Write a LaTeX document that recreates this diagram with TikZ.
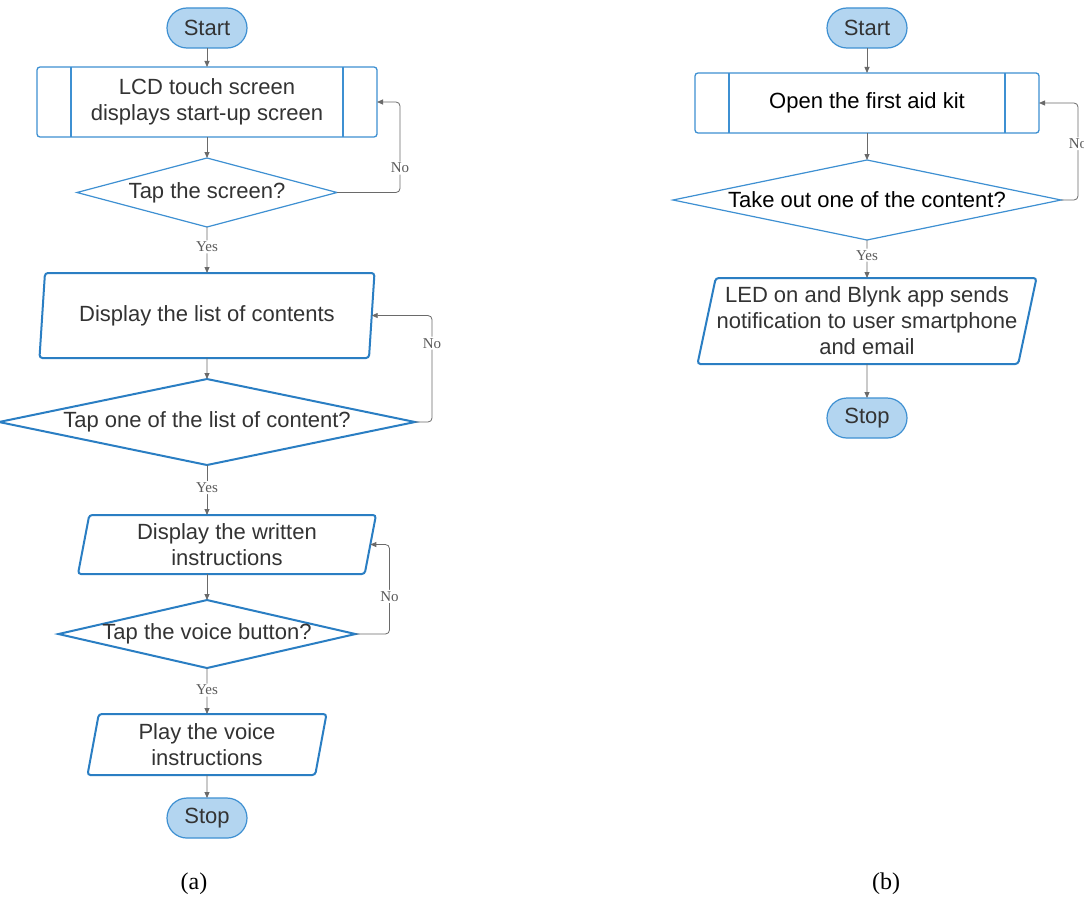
\documentclass[tikz,border=0pt]{standalone}
\usepackage{fontspec}
\setmainfont{Liberation Sans}
\newfontfamily\notefont{Liberation Serif}
\usetikzlibrary{arrows.meta,positioning,shapes.geometric}
\definecolor{edge}{HTML}{3E90D2}
\definecolor{edgedark}{HTML}{2A7EC3}
\definecolor{pill}{HTML}{B3D5F0}
\definecolor{ink}{HTML}{333333}
\definecolor{wire}{HTML}{6A6A6A}
\tikzset{base/.style={inner sep=0pt,outer sep=0pt,align=center,text=ink,font=\fontsize{22}{26}\selectfont},
term/.style={base,draw=edge,fill=pill,line width=1.2pt,rounded corners=20pt,minimum width=80pt,minimum height=40pt},
proc/.style 2 args={base,draw=edge,line width=1.3pt,rounded corners=3pt,minimum width=#1,minimum height=#2,path picture={\draw[edge,line width=1.3pt] ([xshift=34pt]path picture bounding box.north west)--([xshift=34pt]path picture bounding box.south west) ([xshift=-34pt]path picture bounding box.north east)--([xshift=-34pt]path picture bounding box.south east);}},
dec/.style 2 args={base,shape=diamond,draw=edge,line width=1.2pt,minimum width=#1,minimum height=#2},
io/.style 2 args={base,trapezium,trapezium left angle=75,trapezium right angle=105,trapezium stretches body,draw=edgedark,line width=2pt,rounded corners=3pt,minimum width=#1,minimum height=#2},
heavy/.style={draw=edgedark,line width=2pt},
arr/.style={-{Triangle[length=6pt,width=5pt]},wire,line width=0.8pt,rounded corners=4pt},
lbl/.style={font=\notefont\fontsize{15}{15}\selectfont,text=wire!85!black,fill=white,inner sep=1.5pt},
caption/.style={font=\notefont\fontsize{24}{24}\selectfont,text=black}}

\begin{document}
\begin{tikzpicture}[x=1pt,y=-1pt]
\fill[white] (0,0) rectangle (1084,899);
\useasboundingbox (0,0) rectangle (1084,899);
\node[term] (starta) at (207,28) {Start};
\node[proc={340pt}{70pt},below=19pt of starta] (lcd) {LCD touch screen\\displays start-up screen};
\node[dec={260pt}{69pt},below=21pt of lcd] (tapscreen) {\makebox[0pt]{Tap the screen?}};
\node[io={335pt}{85pt},below=46pt of tapscreen] (list) {Display the list of contents};
\node[dec={416pt}{86pt},heavy,below=21pt of list] (tapone) {\makebox[0pt]{Tap one of the list of content?}};
\node[io={298pt}{59pt},below=50pt of tapone,xshift=20pt] (written) {Display the written\\instructions};
\node[dec={297pt}{68pt},heavy,below=26pt of written,xshift=-20pt] (tapvoice) {\makebox[0pt]{Tap the voice button?}};
\node[io={239pt}{61pt},below=46pt of tapvoice] (play) {Play the voice\\instructions};
\node[term,below=23pt of play] (stopa) {Stop};
\draw[arr] (starta)--(lcd); \draw[arr] (lcd)--(tapscreen);
\draw[arr] (tapscreen)--node[lbl,pos=0.43]{Yes}(list); \draw[arr] (list)--(tapone);
\draw[arr] (tapone.south)--node[lbl,pos=0.45]{Yes}(tapone.south |- written.north);
\draw[arr] (tapvoice.north |- written.south)--(tapvoice.north);
\draw[arr] (tapvoice)--node[lbl,pos=0.48]{Yes}(play); \draw[arr] (play)--(stopa);
\draw[arr] (tapscreen.east)--++(63,0) |- node[lbl,pos=0.135]{No}(lcd.east);
\draw[arr] (tapone.east)--++(17,0) |- node[lbl,pos=0.37]{No}(list.east);
\draw[arr] (tapvoice.east)--++(34,0) |- node[lbl,pos=0.21]{No}(written.east);
\node[term] (startb) at (867,28) {Start};
\node[proc={344pt}{60pt},below=25pt of startb,text=black] (kit) {Open the first aid kit};
\node[dec={388pt}{80pt},below=27pt of kit,text=black] (takeout) {\makebox[0pt]{Take out one of the content?}};
\node[io={339pt}{86pt},below=38pt of takeout] (notify) {LED on and Blynk app sends\\notification to user smartphone\\and email};
\node[term,below=34pt of notify] (stopb) {Stop};
\draw[arr] (startb)--(kit); \draw[arr] (kit)--(takeout);
\draw[arr] (takeout)--node[lbl,pos=0.4]{Yes}(notify); \draw[arr] (notify)--(stopb);
\draw[arr] (takeout.east)--++(17,0) |- node[lbl,pos=0.29]{No}(kit.east);
\node[caption] (capa) at (194,884) {(a)};
\node[caption] (capb) at (886,884) {(b)};
\end{tikzpicture}
\end{document}
